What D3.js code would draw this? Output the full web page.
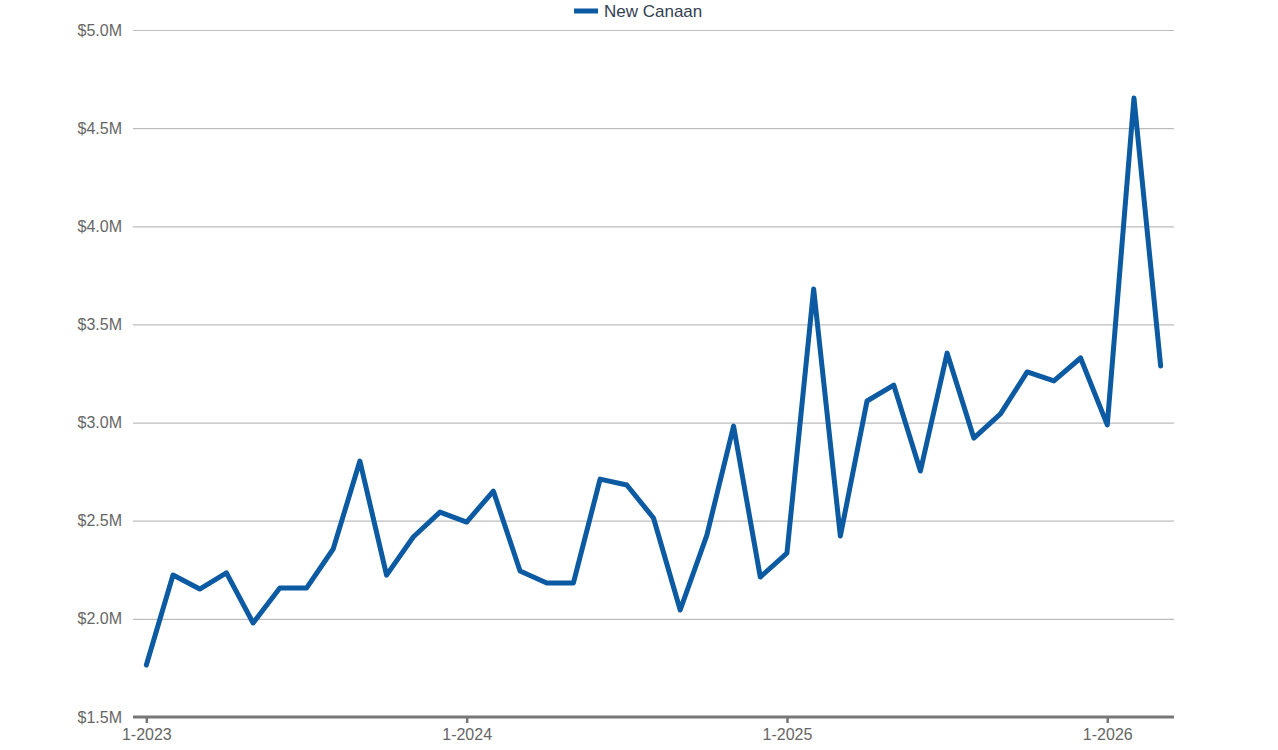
<!DOCTYPE html>
<html>
<head>
<meta charset="utf-8">
<script src="https://cdn.jsdelivr.net/npm/d3@7"></script>
<style>
body{margin:0;background:#fff;font-family:"Liberation Sans",Arial,sans-serif}
</style>
</head>
<body>
<div id="chart"></div>
<script>
// monthly median price, Jan 2023 .. Mar 2026 (in $M)
const seriesName = 'New Canaan'
const months = ['1-2023','2-2023','3-2023','4-2023','5-2023','6-2023','7-2023','8-2023','9-2023','10-2023','11-2023','12-2023',
	'1-2024','2-2024','3-2024','4-2024','5-2024','6-2024','7-2024','8-2024','9-2024','10-2024','11-2024','12-2024',
	'1-2025','2-2025','3-2025','4-2025','5-2025','6-2025','7-2025','8-2025','9-2025','10-2025','11-2025','12-2025',
	'1-2026','2-2026','3-2026']
const values = [1.765,2.223,2.152,2.234,1.979,2.157,2.157,2.356,2.804,2.223,2.417,2.544,
	2.493,2.651,2.244,2.183,2.183,2.712,2.682,2.514,2.045,2.427,2.982,2.213,
	2.335,3.680,2.422,3.110,3.191,2.753,3.354,2.921,3.044,3.258,3.212,3.329,
	2.988,4.653,3.288]
const yTicks = [1.5,2.0,2.5,3.0,3.5,4.0,4.5,5.0]
const xTickLabels = ['1-2023','1-2024','1-2025','1-2026']

const width = 1278,height = 750
const svg = d3.select('#chart').append('svg')
	.attr('width',width).attr('height',height)

const x = d3.scaleLinear().domain([-0.5,months.length-0.5]).range([133,1174])
const y = d3.scaleLinear().domain([1.5,5.0]).range([717,30])

//grid lines + y labels
const yAxis = d3.axisLeft(y).tickValues(yTicks)
	.tickSize(-(1174-133)).tickPadding(11)
	.tickFormat(d => '$' + d.toFixed(1) + 'M')
svg.append('g').attr('transform','translate(133,0)').call(yAxis)
	.call(g => g.select('.domain').remove())
	.call(g => g.selectAll('.tick line').attr('stroke','#bdbdbd').attr('stroke-width',1.2))
	.call(g => g.selectAll('.tick text').attr('fill','#666').style('font-size','16px')
		.style('font-family','"Liberation Sans",Arial,sans-serif'))

//x axis
const xAxis = d3.axisBottom(x)
	.tickValues(xTickLabels.map(l => months.indexOf(l)))
	.tickSize(6).tickPadding(6)
	.tickFormat(i => months[i])
svg.append('g').attr('transform','translate(0,717)').call(xAxis)
	.call(g => g.select('.domain').attr('d','M133,0H1174').attr('stroke','#777').attr('stroke-width',3))
	.call(g => g.selectAll('.tick line').attr('stroke','#777').attr('stroke-width',2.5).attr('y1',0).attr('y2',6))
	.call(g => g.selectAll('.tick text').attr('fill','#666').style('font-size','16px')
		.style('font-family','"Liberation Sans",Arial,sans-serif'))

//the series
const line = d3.line().x((d,i) => x(i)).y(d => y(d))
svg.append('path').datum(values)
	.attr('d',line)
	.attr('fill','none')
	.attr('stroke','#0b5aa2')
	.attr('stroke-width',5)
	.attr('stroke-linejoin','round')
	.attr('stroke-linecap','round')

//legend
const legend = svg.append('g').attr('transform','translate(574,11)')
legend.append('line').attr('x1',0).attr('x2',24).attr('y1',0).attr('y2',0)
	.attr('stroke','#0b5aa2').attr('stroke-width',5)
legend.append('text').attr('x',30).attr('y',6).text(seriesName)
	.attr('fill','#333f50').style('font-size','17px')
</script>
</body>
</html>
